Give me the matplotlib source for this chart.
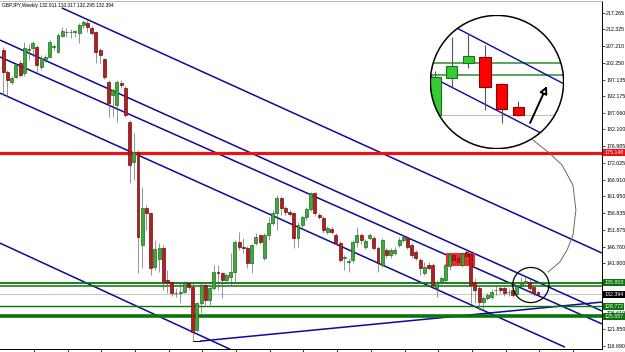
import matplotlib

matplotlib.use("Agg")
import matplotlib.pyplot as plt
import matplotlib.transforms as mtransforms
import numpy as np
from matplotlib.patches import Circle, Ellipse, Rectangle

TITLE = "GBPJPY,Weekly 132.911 133.317 132.295 132.394"

# weekly bars, oldest first
opens = [206.1, 199.5, 196.4, 197.9, 202.2, 199.2, 206.1, 206.7, 207.0, 201.0,
         203.4, 204.0, 207.0, 205.5, 210.3, 211.5, 211.5, 211.5, 211.2, 213.6,
         214.2, 212.7, 211.5, 206.1, 203.4, 196.4, 192.5, 189.5, 196.1, 194.6,
         184.4, 172.3, 175.3, 147.2, 158.4, 156.9, 140.6, 143.0, 146.3, 136.7,
         136.1, 132.7, 132.7, 133.0, 135.8, 134.5, 121.6, 129.7, 135.2, 130.6,
         134.3, 139.1, 138.8, 136.7, 137.6, 139.1, 148.1, 146.6, 146.3, 141.8,
         147.8, 150.2, 143.3, 150.2, 153.9, 156.9, 161.4, 158.4, 157.2, 156.9,
         149.3, 153.3, 155.7, 158.1, 162.9, 156.3, 155.4, 151.2, 152.1, 150.2,
         147.8, 143.3, 142.1, 142.7, 148.1, 150.2, 146.6, 149.3, 149.3, 146.3,
         141.2, 145.7, 144.2, 144.8, 147.2, 148.7, 149.3, 147.2, 145.1, 142.7,
         138.8, 141.2, 141.2, 134.2, 136.1, 136.7, 140.9, 144.2, 143.3, 141.2,
         145.1, 144.5, 136.1, 134.2, 130.0, 131.2, 131.5, 133.6, 134.2, 134.2,
         133.0, 133.6, 132.4, 134.8, 135.8, 136.2, 134.4, 132.911]
highs = [207.0, 200.1, 198.2, 202.2, 203.1, 208.5, 207.9, 208.8, 207.6, 204.6,
         204.6, 209.1, 207.9, 211.2, 213.0, 212.7, 212.4, 212.1, 214.2, 215.2,
         215.2, 213.3, 211.8, 206.7, 203.7, 197.0, 194.6, 197.0, 197.0, 195.2,
         185.0, 181.0, 175.9, 164.7, 159.3, 157.2, 148.7, 147.8, 147.2, 139.7,
         136.4, 134.2, 135.8, 136.4, 136.1, 135.8, 130.0, 135.8, 135.8, 135.0,
         141.2, 141.2, 139.1, 138.8, 144.8, 148.7, 151.2, 149.3, 146.9, 147.5,
         150.8, 150.5, 150.8, 155.7, 157.8, 162.3, 162.0, 159.0, 157.8, 157.2,
         154.2, 156.3, 158.7, 163.2, 163.2, 156.9, 156.0, 153.0, 152.7, 150.8,
         148.4, 144.2, 143.3, 148.7, 152.7, 150.8, 149.0, 150.8, 149.9, 146.9,
         149.3, 146.3, 146.3, 146.6, 149.6, 150.2, 149.9, 147.8, 145.7, 143.3,
         142.1, 142.1, 141.8, 136.7, 137.9, 141.8, 145.1, 145.1, 144.8, 145.1,
         145.7, 145.1, 137.3, 134.9, 131.8, 132.7, 133.9, 135.2, 134.9, 134.9,
         133.9, 134.2, 135.3, 137.5, 137.8, 137.0, 134.5, 133.317]
lows = [192.5, 191.9, 195.8, 197.6, 197.9, 198.2, 203.1, 204.0, 199.5, 200.1,
        202.5, 203.7, 206.1, 205.2, 210.0, 210.0, 209.7, 210.0, 208.2, 212.7,
        211.5, 210.6, 202.2, 202.2, 197.3, 185.9, 185.9, 184.4, 194.6, 185.9,
        165.9, 166.8, 138.8, 140.3, 151.8, 138.2, 139.7, 139.1, 133.6, 132.7,
        131.8, 131.5, 129.7, 132.7, 133.6, 118.5, 121.0, 126.7, 129.1, 129.1,
        133.6, 133.6, 131.2, 135.8, 135.2, 135.8, 145.7, 144.8, 140.3, 138.8,
        147.2, 147.5, 142.7, 148.7, 153.3, 151.8, 156.3, 156.3, 156.0, 146.3,
        146.6, 152.4, 154.8, 157.5, 156.0, 155.1, 150.9, 150.5, 150.5, 147.2,
        142.1, 139.7, 139.1, 141.8, 146.6, 147.5, 146.0, 148.7, 145.7, 139.1,
        140.6, 143.3, 143.3, 144.2, 146.6, 148.1, 146.0, 143.3, 142.7, 138.2,
        138.2, 139.7, 134.5, 131.5, 135.5, 136.1, 139.7, 141.8, 141.2, 140.6,
        143.3, 129.7, 129.7, 127.6, 127.9, 130.6, 130.9, 132.1, 132.7, 131.8,
        131.8, 131.5, 132.0, 134.2, 135.5, 132.7, 131.9, 132.295]
closes = [199.5, 197.0, 197.6, 201.6, 198.5, 206.7, 206.4, 208.2, 201.6, 203.7,
          204.0, 208.5, 207.3, 210.6, 211.8, 211.4, 211.6, 211.7, 213.6, 214.5,
          213.0, 211.2, 205.5, 204.6, 197.9, 190.1, 194.0, 196.4, 195.5, 186.5,
          171.4, 175.3, 149.6, 158.4, 156.9, 140.3, 146.0, 146.3, 136.1, 135.8,
          132.7, 132.6, 133.0, 135.8, 134.5, 121.0, 129.7, 135.2, 130.6, 134.3,
          139.1, 138.8, 136.7, 138.2, 139.1, 148.1, 146.6, 146.3, 141.8, 147.2,
          149.6, 148.1, 150.2, 153.9, 156.9, 161.4, 158.4, 157.2, 156.6, 149.3,
          153.3, 155.7, 158.1, 162.9, 156.9, 155.7, 151.8, 152.4, 151.2, 147.8,
          142.7, 143.6, 142.4, 148.1, 150.2, 148.7, 148.4, 150.2, 146.3, 141.8,
          148.7, 144.2, 145.7, 145.7, 148.7, 149.6, 146.6, 144.2, 143.3, 140.3,
          140.6, 140.3, 135.2, 136.1, 137.3, 141.2, 144.5, 142.7, 142.1, 144.5,
          143.9, 135.2, 133.6, 130.0, 131.2, 132.1, 133.0, 133.7, 133.6, 132.7,
          133.1, 132.1, 134.9, 135.6, 136.3, 134.2, 132.8, 132.394]

# channel lines, start (bar, price) -> end (bar, price)
line_x0 = [13.9, -0.78, -0.78, -0.78, -0.78, 46.7]
line_p0 = [218.8, 209.1, 204.0, 193.1, 147.8, 118.2]
line_x1 = [142.2, 142.2, 142.2, 133.4, 54.3, 142.2]
line_p1 = [144.8, 127.3, 123.4, 116.4, 115.5, 130.0]

red_level = 175.148
green_levels = [135.803, 135.0, 128.772, 125.657]
green_tags = ["135.803", None, "128.772", "125.657"]
last_price = 132.394

axis_ticks = [217.265, 212.325, 207.210, 202.250, 197.135, 192.175, 187.060, 182.100,
              176.985, 172.025, 166.910, 161.950, 156.835, 151.875, 146.760, 141.800,
              126.610, 121.850, 116.690]

box_bars = [105.2, 112.0]
box_prices = [140.9, 144.8]

ring_center = (125.3, 135.15)
ring_size = (8.6, 10.6)

connector_x = [125.8, 129.4, 132.7, 135.3, 136.0, 135.3, 133.9, 132.2, 129.4]
connector_p = [178.9, 175.3, 171.4, 165.3, 157.8, 150.2, 145.7, 142.1, 139.1]

arrow_from = (127.7, 131.87)
arrow_to = (128.71, 134.30)

zoom_bars = (121.71, 129.73)
zoom_prices = (130.16, 138.96)

FONT = ["Liberation Sans", "DejaVu Sans"]
BLUE = "#0a0a9c"


def draw_candles(ax, width, up, down, up_edge, down_edge, wick, lw):
    o, h, l, c = (np.asarray(v, float) for v in (opens, highs, lows, closes))
    x = np.arange(len(o))
    bull = c >= o
    arts = [ax.vlines(x, l, h, colors=wick, lw=lw, zorder=3)]
    body = np.maximum(np.abs(c - o), 0.06)
    bars = ax.bar(x, body, width, bottom=np.minimum(o, c),
                  color=np.where(bull, up, down),
                  edgecolor=np.where(bull, up_edge, down_edge), lw=lw, zorder=4)
    return arts + list(bars)


def channel_lines(ax, lw):
    arts = []
    for x0, p0, x1, p1 in zip(line_x0, line_p0, line_x1, line_p1):
        arts += ax.plot([x0, x1], [p0, p1], color=BLUE, lw=lw, zorder=2,
                        solid_capstyle="butt")
    return arts


fig = plt.figure(figsize=(6.25, 3.52), dpi=100)
ax = fig.add_axes([0, 3 / 352, 602 / 625, 348 / 352])
ax.set_facecolor("white")

ax.add_patch(Rectangle((box_bars[0], box_prices[0]), box_bars[1] - box_bars[0],
                       box_prices[1] - box_prices[0], fc="#ff2626", ec="none", zorder=2.5))
draw_candles(ax, 0.7, "#3fa83f", "#b41e1e", "#1d6b1d", "#6e1010", "#6a6a6a", 0.5)
channel_lines(ax, 1.1)
ax.plot([45, line_x0[5]], [line_p0[5]] * 2, color="black", lw=0.7, zorder=3)

ax.axhline(red_level, color="#ee1111", lw=2.3, zorder=2)
for lvl, w in zip(green_levels, [1.3, 1.1, 1.0, 2.6]):
    ax.axhline(lvl, color="#0b740b", lw=w, zorder=2)
ax.axhline(last_price, color="#c8c8c8", lw=0.8, zorder=1.5)

ax.add_patch(Ellipse(ring_center, *ring_size, fill=False, ec="black", lw=0.9, zorder=6))
ax.plot(connector_x, connector_p, color="#6a6a6a", lw=0.7, zorder=6)

ax.set_xlim(-0.78, 142.2)
ax.set_ylim(115.83, 220.89)

ax.yaxis.tick_right()
ax.set_yticks(axis_ticks)
ax.set_yticklabels([f"{v:.3f}" for v in axis_ticks], fontsize=3.8, family=FONT)
ax.tick_params(axis="y", length=2, width=0.5, pad=1)
ax.set_xticks(np.arange(7.3, 142, 8))
ax.set_xticklabels([])
ax.tick_params(axis="x", length=3, width=0.6)
ax.spines["left"].set_visible(False)
ax.spines["top"].set_color("#b0b0b0")
ax.spines["top"].set_linewidth(0.6)
for s in ("right", "bottom"):
    ax.spines[s].set_linewidth(0.7)

tag = mtransforms.blended_transform_factory(ax.transAxes, ax.transData)
tags = [(red_level, "175.148", "#ee1111"), (last_price, "132.394", "black")]
tags += [(lvl, t, "#0b740b") for lvl, t in zip(green_levels, green_tags) if t]
for lvl, text, col in tags:
    ax.text(1.004, lvl, text, transform=tag, ha="left", va="center", fontsize=3.8,
            family=FONT, color="white", clip_on=False, zorder=10,
            bbox=dict(boxstyle="square,pad=0.2", fc=col, ec="none"))

ax.text(0.004, 0.993, TITLE, transform=ax.transAxes, fontsize=3.5, family=FONT,
        va="top", ha="left")

# magnified view of the last weeks
ax2 = fig.add_axes([430 / 625, 1 - 149 / 352, 134 / 625, 134 / 352])
ax2.axis("off")
disc = Circle((0.5, 0.5), 0.5, transform=ax2.transAxes, fc="white", ec="none", zorder=0)
ax2.add_patch(disc)
arts = []
for lvl in green_levels[:2]:
    arts.append(ax2.axhline(lvl, color="#2e8b2e", lw=1.1, zorder=2))
arts.append(ax2.axhline(last_price, color="#c0c0c0", lw=0.8, zorder=1.5))
arts += channel_lines(ax2, 1.0)
arts += draw_candles(ax2, 0.68, "#33cc33", "#ff0000", "#1e6e1e", "#8a0000", "#555555", 0.8)
ann = ax2.annotate("", xy=arrow_to, xytext=arrow_from,
                   arrowprops=dict(arrowstyle="-|>", color="black", lw=1.4,
                                   mutation_scale=11, fc="white", shrinkA=0, shrinkB=0))
for a in arts:
    a.set_clip_path(disc)
ax2.set_xlim(*zoom_bars)
ax2.set_ylim(*zoom_prices)
ax2.add_patch(Circle((0.5, 0.5), 0.497, transform=ax2.transAxes, fill=False,
                     ec="black", lw=1.1, zorder=10))

fig.savefig("out.png", dpi=100)
